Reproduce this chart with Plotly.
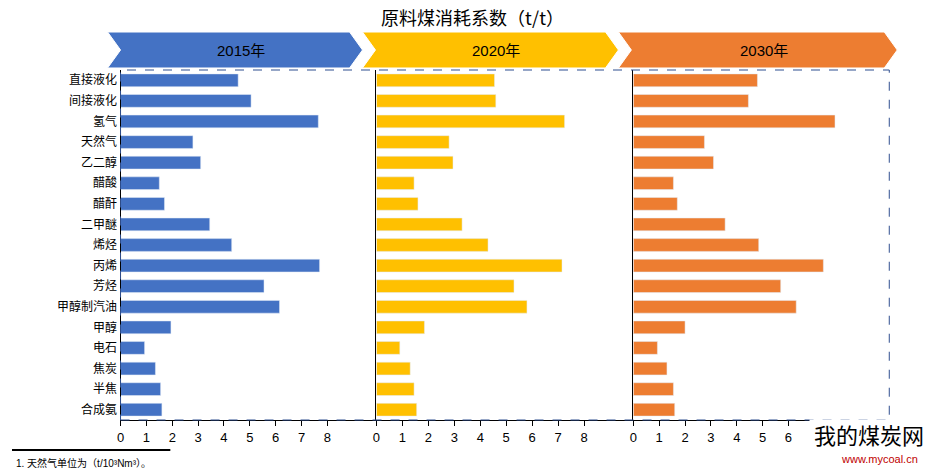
import plotly.graph_objects as go
from plotly.subplots import make_subplots

categories = ['直接液化', '间接液化', '氢气', '天然气', '乙二醇', '醋酸', '醋酐', '二甲醚', '烯烃',
              '丙烯', '芳烃', '甲醇制汽油', '甲醇', '电石', '焦炭', '半焦', '合成氨']
v2015 = [4.55, 5.05, 7.65, 2.8, 3.1, 1.5, 1.7, 3.45, 4.3, 7.7, 5.55, 6.15, 1.95, 0.93, 1.35, 1.55, 1.6]
v2020 = [4.55, 4.6, 7.25, 2.8, 2.95, 1.45, 1.6, 3.3, 4.3, 7.15, 5.3, 5.8, 1.85, 0.9, 1.3, 1.45, 1.55]
v2030 = [4.8, 4.45, 7.8, 2.75, 3.1, 1.55, 1.7, 3.55, 4.85, 7.35, 5.7, 6.3, 2.0, 0.93, 1.3, 1.55, 1.6]
years = ['2015年', '2020年', '2030年']
colors = ['#4472C4', '#FFC000', '#ED7D31']
ticks = [0, 1, 2, 3, 4, 5, 6, 7, 8]

W, H = 946, 474
def px(x): return (x - 11) / W
def py(y): return 1 - (y - 8) / H

fig = make_subplots(rows=1, cols=3, shared_yaxes=True, horizontal_spacing=0)
for i, vals in enumerate([v2015, v2020, v2030]):
    fig.add_trace(go.Bar(y=categories, x=vals, orientation='h', marker_color=colors[i],
                         width=0.62, showlegend=False), row=1, col=i + 1)

doms = [(120, 377), (377, 635), (635, 892)]
for i, (a, b) in enumerate(doms):
    key = 'xaxis' if i == 0 else 'xaxis%d' % (i + 1)
    fig.layout[key].update(domain=[px(a), px(b)], range=[0, 9.9], tickvals=ticks,
                           ticks='outside', ticklen=5, tickcolor='black', showgrid=False,
                           showline=True, linecolor='black', linewidth=1, zeroline=False,
                           tickfont=dict(size=13, color='black'))
for i in range(3):
    key = 'yaxis' if i == 0 else 'yaxis%d' % (i + 1)
    fig.layout[key].update(domain=[py(420), py(70)], autorange='reversed',
                           showline=True, linecolor='black', linewidth=1, ticks='',
                           showgrid=False, tickfont=dict(size=12, color='black'))

# dashed border around plot area
fig.add_shape(type='rect', xref='paper', yref='paper', x0=px(120), x1=px(892), y0=py(420), y1=py(70),
              line=dict(color='#2F4F8F', width=1, dash='dash'))

# chevron headers
heads = [(107, 363), (363, 620), (620, 900)]
for i, (a, b) in enumerate(heads):
    n = 13
    t, bo, m = py(32), py(68), py(50)
    path = 'M %f %f L %f %f L %f %f L %f %f L %f %f L %f %f Z' % (
        px(a), t, px(b - n), t, px(b), m, px(b - n), bo, px(a), bo, px(a + n), m)
    fig.add_shape(type='path', xref='paper', yref='paper', path=path,
                  fillcolor=colors[i], line=dict(color='white', width=1), layer='below')
    fig.add_annotation(x=px((a + b) / 2 + 6), y=m, xref='paper', yref='paper', text=years[i],
                       xanchor='center', yanchor='middle',
                       showarrow=False, font=dict(size=15, color='black'))

fig.add_annotation(x=px(473), y=py(17), xref='paper', yref='paper', text='原料煤消耗系数（t/t）',
                   xanchor='center', yanchor='middle',
                   showarrow=False, font=dict(size=18, color='black', family='Noto Sans CJK SC'))

# footnote
fig.add_shape(type='line', xref='paper', yref='paper', x0=px(11), x1=px(170), y0=py(450), y1=py(450),
              line=dict(color='black', width=2))
fig.add_annotation(x=px(13), y=py(463), xref='paper', yref='paper', xanchor='left', yanchor='middle',
                   text='1. 天然气单位为（t/10³Nm³）。', showarrow=False, font=dict(size=10, color='black'))

# site logo text, covering the last ticks as in the original
fig.add_annotation(x=px(872), y=py(436), xref='paper', yref='paper', text='我的煤炭网',
                   xanchor='center', yanchor='middle', bgcolor='white', borderpad=4,
                   showarrow=False, font=dict(size=22, color='black'))
fig.add_annotation(x=px(882), y=py(459), xref='paper', yref='paper', text='www.mycoal.cn',
                   xanchor='center', yanchor='middle',
                   showarrow=False, font=dict(size=11, color='#C00000'))

fig.update_layout(width=W, height=H, margin=dict(l=0, r=0, t=0, b=0), bargap=0.38,
                  plot_bgcolor='white', paper_bgcolor='white',
                  font=dict(family='Liberation Sans, Noto Sans CJK SC, sans-serif'))
fig.write_html('out.html')
